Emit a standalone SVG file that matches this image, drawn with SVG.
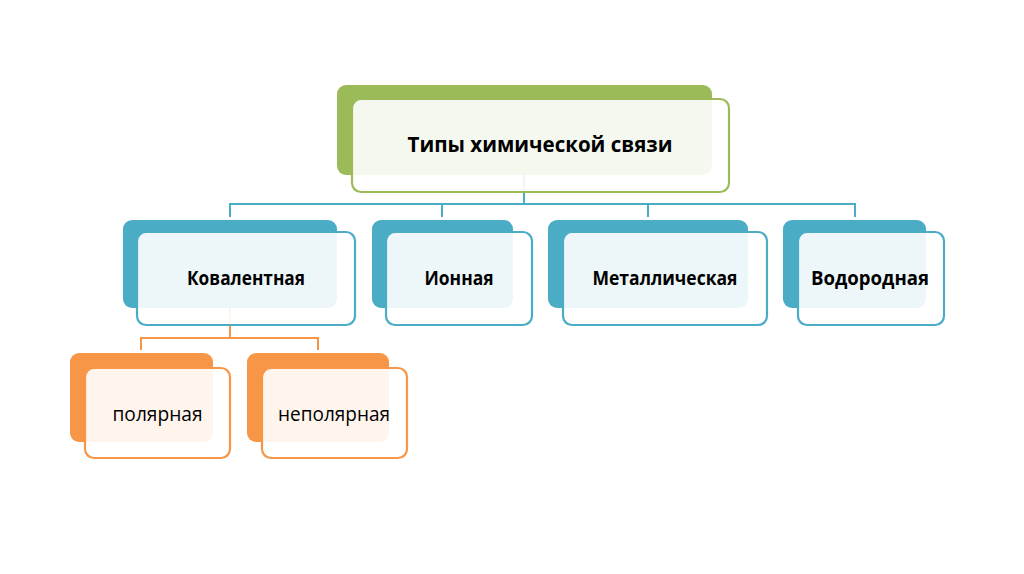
<svg xmlns="http://www.w3.org/2000/svg" width="1024" height="574" viewBox="0 0 1024 574">
<style>
.bg{fill:#ffffff}
.back{stroke:none}
.front{fill:#ffffff;fill-opacity:0.9;stroke-width:2.2}
.g .back{fill:#9bbb59}.g .front{stroke:#9bbb59}
.b .back{fill:#4bacc6}.b .front{stroke:#4bacc6}
.o .back{fill:#f79646}.o .front{stroke:#f79646}
text{font-family:"Open Sans","Noto Sans","Liberation Sans",sans-serif;fill:#000;text-anchor:middle}
.t1{font-size:22px;font-weight:bold}
.t2{font-size:20px;font-weight:bold}
.t3{font-size:20px}
.conn{fill:none;stroke-width:2}
</style>
<rect class="bg" width="1024" height="574"/>
<g id="connectors">
<path class="conn" stroke="#4bacc6" d="M524 175V204M230 217V204H855V217M442 204V217M648 204V217"/>
<path class="conn" stroke="#f79646" d="M230 308V338M141 350V338H318V350"/>
</g>
<g id="n-top" class="g">
<rect class="back" x="337" y="85" width="375" height="90" rx="9"/>
<rect class="front" x="352" y="99" width="377" height="93" rx="9"/>
<text class="t1" x="540" y="152" textLength="265" lengthAdjust="spacingAndGlyphs">Типы химической связи</text>
</g>
<g id="n-kov" class="b">
<rect class="back" x="123" y="220" width="214" height="88" rx="9"/>
<rect class="front" x="137" y="232" width="218" height="93" rx="9"/>
<text class="t2" x="246" y="285" textLength="118" lengthAdjust="spacingAndGlyphs">Ковалентная</text>
</g>
<g id="n-ion" class="b">
<rect class="back" x="372" y="220" width="141" height="88" rx="9"/>
<rect class="front" x="386" y="232" width="146" height="93" rx="9"/>
<text class="t2" x="459" y="285" textLength="69" lengthAdjust="spacingAndGlyphs">Ионная</text>
</g>
<g id="n-met" class="b">
<rect class="back" x="548" y="220" width="200" height="88" rx="9"/>
<rect class="front" x="563" y="232" width="204" height="93" rx="9"/>
<text class="t2" x="665" y="285" textLength="145" lengthAdjust="spacingAndGlyphs">Металлическая</text>
</g>
<g id="n-vod" class="b">
<rect class="back" x="783" y="220" width="143" height="88" rx="9"/>
<rect class="front" x="798" y="232" width="146" height="93" rx="9"/>
<text class="t2" x="870" y="285" textLength="118" lengthAdjust="spacingAndGlyphs">Водородная</text>
</g>
<g id="n-pol" class="o">
<rect class="back" x="70" y="353" width="143" height="89" rx="9"/>
<rect class="front" x="85" y="368" width="145" height="90" rx="9"/>
<text class="t3" x="157.5" y="421" textLength="90" lengthAdjust="spacingAndGlyphs">полярная</text>
</g>
<g id="n-nepol" class="o">
<rect class="back" x="247" y="353" width="142" height="89" rx="9"/>
<rect class="front" x="262" y="368" width="145" height="90" rx="9"/>
<text class="t3" x="334" y="421" textLength="112" lengthAdjust="spacingAndGlyphs">неполярная</text>
</g>
</svg>
